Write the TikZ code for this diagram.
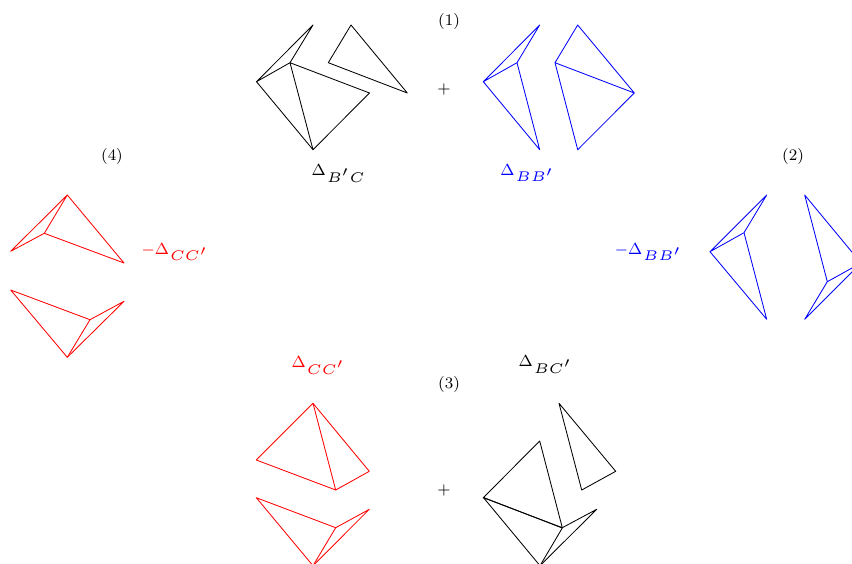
\documentclass[tikz,border=0pt]{standalone}
\newcommand{\dsub}[1]{$\Delta$\hspace{0.5pt}\raisebox{-3.4pt}{\scalebox{1.4}{$\scriptscriptstyle #1$}}}
\begin{document}
\begin{tikzpicture}[x=0.5pt,y=-0.5pt,
  edge/.style={line width=0.42pt,line join=round},
  lab/.style={inner sep=0pt,font=\fontsize{8}{10}\selectfont},
  num/.style={inner sep=0pt,font=\fontsize{8}{10}\selectfont}]
\useasboundingbox (0,0) rectangle (852,563);
\clip (0,0) rectangle (852,563);
% (1) black
\begin{scope}[edge]
\draw (313,25) -- (256.5,81.7) -- (290,62.7) -- cycle;
\draw (290,62.7) -- (369.5,93) -- (313,149.7) -- cycle;
\draw (256.5,81.7) -- (313,149.7);
\draw (351,25) -- (328.3,62.7) -- (407.3,93) -- cycle;
\end{scope}
% (1) blue
\begin{scope}[edge,blue]
\draw (539.7,25) -- (483.3,81.7) -- (517,62.7) -- cycle;
\draw (483.3,81.7) -- (539.7,149.7) -- (517,62.7);
\draw (577.7,25) -- (555,62.7) -- (634.3,93) -- cycle;
\draw (555,62.7) -- (577.7,149.7) -- (634.3,93);
\end{scope}
% (2) blue
\begin{scope}[edge,blue]
\draw (766.7,195) -- (710,251.7) -- (744,232.7) -- cycle;
\draw (710,251.7) -- (766.7,319.3) -- (744,232.7);
\draw (804.7,195) -- (861,263) -- (827.3,281.7) -- cycle;
\draw (827.3,281.7) -- (804.7,319.3) -- (861,263);
\end{scope}
% (3) red
\begin{scope}[edge,red]
\draw (313,403.3) -- (256.3,460) -- (335.7,490) -- cycle;
\draw (313,403.3) -- (369.3,471.3) -- (335.7,490);
\draw (256.3,497.7) -- (335.7,527.7) -- (313,565.7) -- cycle;
\draw (335.7,527.7) -- (369.3,509.3) -- (313,565.7);
\end{scope}
% (3) black
\begin{scope}[edge]
\draw (559,403.3) -- (615.7,471.3) -- (581.7,490) -- cycle;
\draw (539.7,441) -- (483.3,497.7) -- (562.3,527.7) -- cycle;
\draw (483.3,497.4) -- (540,565.7) -- (562.3,528) -- cycle;
\draw (562.3,527.7) -- (596.7,509.3) -- (540,565.7);
\end{scope}
% (4) red
\begin{scope}[edge,red]
\draw (67.3,195) -- (10.7,251.3) -- (44.3,233.3) -- cycle;
\draw (44.3,233.3) -- (124,263) -- (67.3,195);
\draw (10.7,290) -- (90,319.7) -- (67.3,357.3) -- cycle;
\draw (90,319.7) -- (124,301.3) -- (67.3,357.3);
\end{scope}
% labels
\node[num] (n1) at (449,21) {(1)};
\node[num] (n2) at (793,156) {(2)};
\node[num] (n3) at (449,384) {(3)};
\node[num] (n4) at (112,156.5) {(4)};
\node[lab] (p1) at (444,89) {$+$};
\node[lab] (p3) at (444,490) {$+$};
\node[lab] (d1) at (338,173.5) {\dsub{B'C}};
\node[lab,blue] (d2) at (527,173) {\dsub{BB'}};
\node[lab,red] (d3) at (318,365.5) {\dsub{CC'}};
\node[lab] (d4) at (545,364.5) {\dsub{BC'}};
\node[lab,red] (d5) at (174.5,252) {$-$\dsub{CC'}};
\node[lab,blue] (d6) at (648,252) {$-$\dsub{BB'}};
\end{tikzpicture}
\end{document}
